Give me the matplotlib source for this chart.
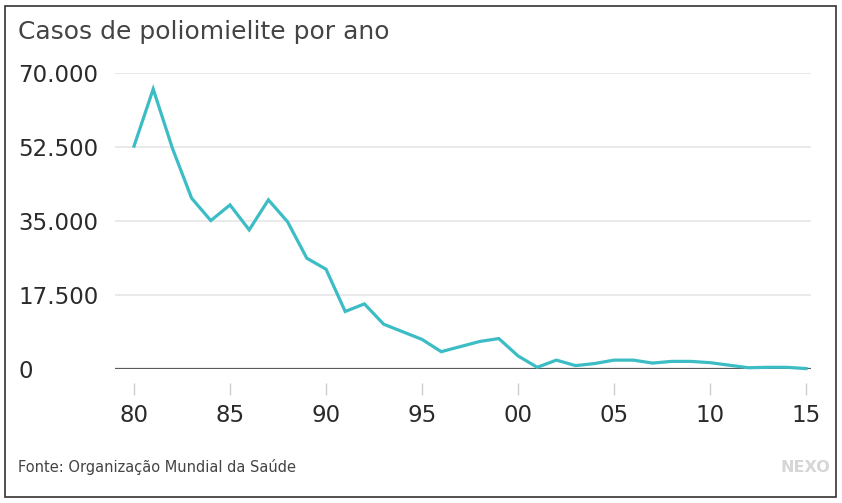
import matplotlib.pyplot as plt
from matplotlib.patches import Rectangle

# %%
# Data: polio cases per year
years = list(range(1980, 2016))
cases = [
    52700, 66200, 52200, 40400, 35100, 38800, 32900, 40000, 34800, 26200,
    23600, 13600, 15400, 10600, 8800, 7000, 4100, 5300, 6500, 7200,
    3100, 400, 2100, 800, 1300, 2100, 2100, 1400, 1800, 1800,
    1500, 900, 300, 400, 400, 100,
]
xticks = [1980, 1985, 1990, 1995, 2000, 2005, 2010, 2015]
xticklabels = ["80", "85", "90", "95", "00", "05", "10", "15"]
yticks = [0, 17500, 35000, 52500, 70000]
yticklabels = ["0", "17.500", "35.000", "52.500", "70.000"]

title = "Casos de poliomielite por ano"
source = "Fonte: Organização Mundial da Saúde"

# %%
W, H = 842, 503
fig = plt.figure(figsize=(W / 100, H / 100), dpi=100)
fig.patch.set_facecolor("white")

# frame around the whole graphic
fig.patches.append(
    Rectangle((5 / W, 6 / H), 831 / W, 491 / H, transform=fig.transFigure,
              fill=False, edgecolor="#333333", linewidth=1.2)
)

ax = fig.add_axes([115 / W, 1 - 369 / H, (811 - 115) / W, (369 - 73) / H])
ax.set_xlim(1979.01, 2015.26)
ax.set_ylim(0, 70000)

for y in yticks[1:]:
    ax.axhline(y, color="#e4e4e4", linewidth=1.1, zorder=1)
ax.axhline(0, color="#5a5a5a", linewidth=1.6, zorder=2)

ax.plot(years, cases, color="#3cbcc5", linewidth=2.3, zorder=3,
        solid_joinstyle="miter", clip_on=False)

for s in ax.spines.values():
    s.set_visible(False)
ax.spines["bottom"].set_position(("outward", 10))

ax.set_xticks(xticks)
ax.set_xticklabels(xticklabels)
ax.set_yticks(yticks)
ax.set_yticklabels(yticklabels)
ax.tick_params(axis="x", length=8.5, width=1, color="#cccccc", pad=7,
               labelsize=16.5, labelcolor="#2a2a2a")
ax.tick_params(axis="y", length=0, pad=69.5, labelsize=16.5,
               labelcolor="#2a2a2a")
for lbl in ax.get_yticklabels():
    lbl.set_horizontalalignment("left")

fig.text(18 / W, 1 - 32 / H, title, fontsize=18, color="#444444",
         ha="left", va="center")
fig.text(18 / W, 1 - 467 / H, source, fontsize=10.5, color="#444444",
         ha="left", va="center", family="Liberation Sans Narrow")
fig.text(830 / W, 1 - 467 / H, "NEXO", fontsize=11.5, color="#d6d6d6",
         ha="right", va="center", fontweight="bold")

fig.savefig("out.png", dpi=100)
